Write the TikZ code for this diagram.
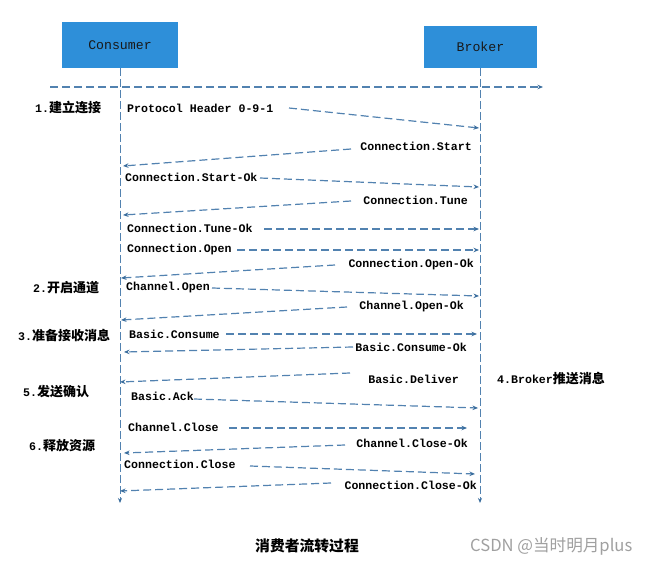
\documentclass[tikz,border=0pt]{standalone}
\usepackage{fontspec}
\setmonofont{Liberation Mono}
\newfontfamily\cjk{Noto Sans CJK SC}
\usetikzlibrary{arrows.meta}
\definecolor{boxblue}{HTML}{2E8FD9}
\definecolor{lineblue}{HTML}{5282B0}
\definecolor{tipblue}{HTML}{3B6E9E}
\definecolor{wmgray}{HTML}{A0A0A0}
\newcommand{\msgfont}{\ttfamily\bfseries\fontsize{11.6}{13}\selectfont}
\newcommand{\steplbl}[2]{{\ttfamily\bfseries\fontsize{11.6}{13}\selectfont #1}{\cjk\bfseries\fontsize{13}{15}\selectfont #2}}
\tikzset{
  actor/.style={fill=boxblue, draw=none, inner sep=0pt, text=black!90,
    font=\ttfamily\fontsize{13.2}{15}\selectfont},
  msg/.style={draw=lineblue, line width=1.2pt, dash pattern=on 8pt off 4pt,
    -{Stealth[length=5.5pt,width=4.5pt,color=tipblue]}},
  life/.style={draw=lineblue, line width=0.9pt, dash pattern=on 8pt off 3pt,
    -{Stealth[length=5pt,width=4pt,color=tipblue]}},
  lblL/.style={anchor=west, inner sep=0pt, font=\msgfont, text=black},
  lblR/.style={anchor=east, inner sep=0pt, font=\msgfont, text=black},
  steplabel/.style={anchor=west, inner sep=0pt, text=black},
}
\begin{document}
\begin{tikzpicture}[x=1pt,y=-1pt]
\useasboundingbox[fill=white] (0,0) rectangle (646,567);

% actors
\node[actor, minimum width=116pt, minimum height=46pt] (cons) at (120,45) {Consumer};
\node[actor, minimum width=113pt, minimum height=42pt] (brok) at (480.5,47) {Broker};

% lifelines
\coordinate (consend) at (120,503);
\coordinate (brokend) at (480,503);
\draw[life] (cons.south) -- (consend);
\draw[life] (480,68) -- (brokend);

% top horizontal arrow
\coordinate (hl) at (50,87);
\coordinate (hr) at (543,87);
\draw[msg] (hl) -- (hr);

% messages
\node[lblL] (m1) at (127,108) {Protocol Header 0-9-1};
\coordinate (m1s) at (289,108); \coordinate (m1e) at (479,128);
\draw[msg] (m1s) -- (m1e);

\node[lblR] (m2) at (472,146) {Connection.Start};
\coordinate (m2s) at (351,149); \coordinate (m2e) at (123,166);
\draw[msg] (m2s) -- (m2e);

\node[lblL] (m3) at (125,177) {Connection.Start-Ok};
\coordinate (m3s) at (260,178); \coordinate (m3e) at (479,187);
\draw[msg] (m3s) -- (m3e);

\node[lblR] (m4) at (468,200) {Connection.Tune};
\coordinate (m4s) at (351,201); \coordinate (m4e) at (123,215);
\draw[msg] (m4s) -- (m4e);

\node[lblL] (m5) at (127,228) {Connection.Tune-Ok};
\coordinate (m5s) at (264,229); \coordinate (m5e) at (479,229);
\draw[msg] (m5s) -- (m5e);

\node[lblL] (m6) at (127,250) {Connection.Open};
\coordinate (m6s) at (237,250); \coordinate (m6e) at (479,250);
\draw[msg] (m6s) -- (m6e);

\node[lblR] (m7) at (474,265) {Connection.Open-Ok};
\coordinate (m7s) at (335,265); \coordinate (m7e) at (121,278);
\draw[msg] (m7s) -- (m7e);

\node[lblL] (m8) at (126,288) {Channel.Open};
\coordinate (m8s) at (212,288); \coordinate (m8e) at (479,296);
\draw[msg] (m8s) -- (m8e);

\node[lblR] (m9) at (464,307) {Channel.Open-Ok};
\coordinate (m9s) at (347,307); \coordinate (m9e) at (121,320);
\draw[msg] (m9s) -- (m9e);

\node[lblL] (m10) at (129,334) {Basic.Consume};
\coordinate (m10s) at (226,334); \coordinate (m10e) at (477,334);
\draw[msg] (m10s) -- (m10e);

\node[lblR] (m11) at (467,347) {Basic.Consume-Ok};
\coordinate (m11s) at (353,347); \coordinate (m11e) at (124,352);
\draw[msg] (m11s) -- (m11e);

\node[lblR] (m12) at (459,379) {Basic.Deliver};
\coordinate (m12s) at (350,373); \coordinate (m12e) at (120,382);
\draw[msg] (m12s) -- (m12e);

\node[lblL] (m13) at (131,396) {Basic.Ack};
\coordinate (m13s) at (194,399); \coordinate (m13e) at (478,408);
\draw[msg] (m13s) -- (m13e);

\node[lblL] (m14) at (128,427) {Channel.Close};
\coordinate (m14s) at (229,428); \coordinate (m14e) at (467,428);
\draw[msg] (m14s) -- (m14e);

\node[lblR] (m15) at (468,443) {Channel.Close-Ok};
\coordinate (m15s) at (345,445); \coordinate (m15e) at (124,453);
\draw[msg] (m15s) -- (m15e);

\node[lblL] (m16) at (124,464) {Connection.Close};
\coordinate (m16s) at (250,466); \coordinate (m16e) at (475,474);
\draw[msg] (m16s) -- (m16e);

\node[lblR] (m17) at (477,485) {Connection.Close-Ok};
\coordinate (m17s) at (331,483); \coordinate (m17e) at (120,491);
\draw[msg] (m17s) -- (m17e);

% step labels
\node[steplabel] (s1) at (35,108) {\steplbl{1.}{建立连接}};
\node[steplabel] (s2) at (33,288) {\steplbl{2.}{开启通道}};
\node[steplabel] (s3) at (18,336) {\steplbl{3.}{准备接收消息}};
\node[steplabel] (s4) at (497,379) {\steplbl{4.Broker}{推送消息}};
\node[steplabel] (s5) at (23,392) {\steplbl{5.}{发送确认}};
\node[steplabel] (s6) at (29,446) {\steplbl{6.}{释放资源}};

% caption and watermark
\node[inner sep=0pt, text=black, font=\cjk\bfseries\fontsize{14.8}{17}\selectfont] (title) at (307,546) {消费者流转过程};
\node[anchor=west, inner sep=0pt, text=wmgray, font=\cjk\fontsize{16.6}{19}\selectfont] (wm) at (470,546) {CSDN @当时明月plus};
\end{tikzpicture}
\end{document}
